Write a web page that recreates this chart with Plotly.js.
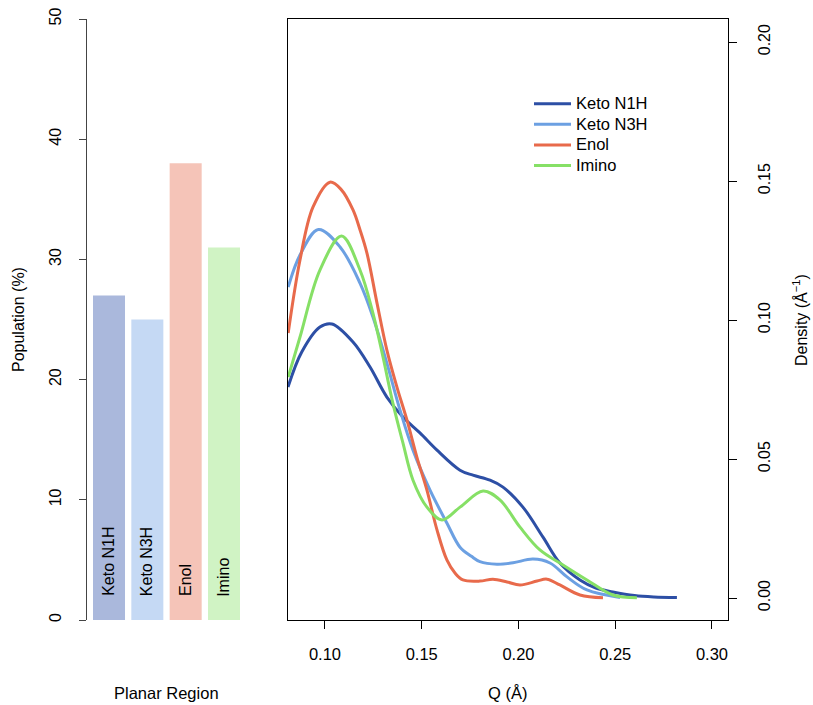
<!DOCTYPE html>
<html>
<head>
<meta charset="utf-8">
<script src="https://cdn.plot.ly/plotly-3.0.1.min.js"></script>
<style>html,body{margin:0;padding:0;background:#fff;}#chart{width:813px;height:705px;}</style>
</head>
<body>
<div id="chart"></div>
<script>
// ---- Data ----
const categories = ["Keto N1H", "Keto N3H", "Enol", "Imino"];
const population = [27, 25, 38, 31];

const ketoN1H_q = [0.0809, 0.0880, 0.0974, 0.1036, 0.1145, 0.1233, 0.1320, 0.1403, 0.1491, 0.1579, 0.1698, 0.1765, 0.1853, 0.1920, 0.2023, 0.2127, 0.2214, 0.2318, 0.2400, 0.2488, 0.2600, 0.2700, 0.2819];
const ketoN1H_d = [0.0759, 0.0885, 0.0975, 0.0986, 0.0921, 0.0831, 0.0723, 0.0651, 0.0594, 0.0532, 0.0460, 0.0442, 0.0424, 0.0399, 0.0327, 0.0219, 0.0126, 0.0065, 0.0036, 0.0022, 0.0009, 0.0004, 0.0002];

const ketoN3H_q = [0.0810, 0.0871, 0.0966, 0.1078, 0.1181, 0.1248, 0.1320, 0.1388, 0.1455, 0.1543, 0.1630, 0.1698, 0.1757, 0.1801, 0.1889, 0.1972, 0.2075, 0.2163, 0.2251, 0.2354, 0.2525];
const ketoN3H_d = [0.1119, 0.1234, 0.1326, 0.1263, 0.1133, 0.1011, 0.0845, 0.0676, 0.0532, 0.0388, 0.0270, 0.0183, 0.0150, 0.0131, 0.0122, 0.0127, 0.0140, 0.0126, 0.0076, 0.0029, 0.0002];

const enol_q = [0.0810, 0.0871, 0.0938, 0.1026, 0.1083, 0.1145, 0.1181, 0.1217, 0.1269, 0.1320, 0.1372, 0.1424, 0.1475, 0.1527, 0.1579, 0.1630, 0.1672, 0.1713, 0.1801, 0.1868, 0.1941, 0.2008, 0.2096, 0.2147, 0.2214, 0.2318, 0.2437];
const enol_d = [0.0953, 0.1216, 0.1406, 0.1496, 0.1470, 0.1396, 0.1325, 0.1241, 0.1061, 0.0892, 0.0759, 0.0640, 0.0507, 0.0388, 0.0245, 0.0137, 0.0090, 0.0065, 0.0061, 0.0068, 0.0058, 0.0047, 0.0061, 0.0068, 0.0047, 0.0011, 0.0001];

const imino_q = [0.0810, 0.0871, 0.0974, 0.1086, 0.1181, 0.1248, 0.1300, 0.1351, 0.1403, 0.1455, 0.1527, 0.1605, 0.1698, 0.1817, 0.1904, 0.2008, 0.2111, 0.2230, 0.2354, 0.2488, 0.2612];
const imino_d = [0.0795, 0.0939, 0.1180, 0.1302, 0.1180, 0.1025, 0.0867, 0.0701, 0.0558, 0.0424, 0.0327, 0.0281, 0.0327, 0.0385, 0.0353, 0.0255, 0.0173, 0.0119, 0.0065, 0.0011, 0.0001];

const lineColors = ["#2d4fa5", "#6ca0e2", "#e86a4b", "#86e066"];
const barColors = ["#aab8dc", "#c5d9f4", "#f5c4b8", "#d0f3c4"];

// ---- Geometry helpers (pixel layout) ----
const W = 813, H = 705;
const FONT = "Liberation Sans, Arial, Helvetica, sans-serif";
const px = v => v / W;
const py = v => 1 - v / H;

const traces = [
  {
    type: "bar", x: [0, 1, 2, 3], y: population,
    marker: { color: barColors, line: { width: 0 } },
    xaxis: "x", yaxis: "y", showlegend: false, hoverinfo: "skip"
  }
];
const series = [
  [ketoN1H_q, ketoN1H_d], [ketoN3H_q, ketoN3H_d], [enol_q, enol_d], [imino_q, imino_d]
];
series.forEach((s, i) => {
  traces.push({
    type: "scatter", mode: "lines", x: s[0], y: s[1],
    name: '<span style="font-size:16.5px">' + categories[i] + '</span>',
    line: { color: lineColors[i], width: 3, shape: "spline", smoothing: 1 },
    xaxis: "x2", yaxis: "y2"
  });
});

const annotations = categories.map((c, i) => ({
  x: i, y: 1.8, xref: "x", yref: "y", text: c, showarrow: false,
  textangle: -90, xanchor: "center", yanchor: "bottom",
  font: { family: FONT, size: 16, color: "#000" }
}));
annotations.push(
  { x: px(166), y: py(693), xref: "paper", yref: "paper", text: "Planar Region", showarrow: false,
    xanchor: "center", yanchor: "middle", font: { family: FONT, size: 16.5, color: "#000" } },
  { x: px(18), y: py(320), xref: "paper", yref: "paper", text: "Population (%)", showarrow: false,
    textangle: -90, xanchor: "center", yanchor: "middle", font: { family: FONT, size: 16, color: "#000" } },
  { x: px(507), y: py(693), xref: "paper", yref: "paper", text: "Q (Å)", showarrow: false,
    xanchor: "center", yanchor: "middle", font: { family: FONT, size: 16.5, color: "#000" } },
  { x: px(800), y: py(320), xref: "paper", yref: "paper", text: "Density (Å<sup>−1</sup>)", showarrow: false,
    textangle: -90, xanchor: "center", yanchor: "middle", font: { family: FONT, size: 16, color: "#000" } }
);

const yDomain = [py(620), py(19)];
const layout = {
  width: W, height: H,
  margin: { l: 0, r: 0, t: 0, b: 0 },
  paper_bgcolor: "#fff", plot_bgcolor: "#fff",
  font: { family: FONT, size: 16, color: "#000" },
  bargap: 0.165,
  xaxis: {
    domain: [px(87), px(245)], range: [-0.574, 3.548],
    visible: false, fixedrange: true
  },
  yaxis: {
    domain: yDomain, range: [0, 50], anchor: "x",
    showline: true, linecolor: "#444", linewidth: 1,
    ticks: "outside", ticklen: 7, tickcolor: "#444", tickwidth: 1,
    tickvals: [0, 10, 20, 30, 40, 50], ticktext: ["0", "10", "20", "30", "40", "50"],
    tickangle: -90, ticklabelstandoff: 12,
    tickfont: { family: FONT, size: 16, color: "#000" },
    showgrid: false, zeroline: false
  },
  xaxis2: {
    domain: [px(288), px(728)], range: [0.0809, 0.3083], anchor: "y2",
    showline: true, mirror: true, linecolor: "#000", linewidth: 1,
    ticks: "outside", ticklen: 8, tickcolor: "#000",
    tickvals: [0.10, 0.15, 0.20, 0.25, 0.30], ticktext: ["0.10", "0.15", "0.20", "0.25", "0.30"],
    ticklabelstandoff: 11,
    tickfont: { family: FONT, size: 16.5, color: "#000" },
    showgrid: false, zeroline: false
  },
  yaxis2: {
    domain: yDomain, range: [-0.0079, 0.2083], anchor: "x2", side: "right",
    showline: true, mirror: true, linecolor: "#000", linewidth: 1,
    ticks: "outside", ticklen: 8, tickcolor: "#000",
    tickvals: [0, 0.05, 0.10, 0.15, 0.20], ticktext: ["0.00", "0.05", "0.10", "0.15", "0.20"],
    tickangle: -90, ticklabelstandoff: 14,
    tickfont: { family: FONT, size: 16, color: "#000" },
    showgrid: false, zeroline: false
  },
  showlegend: true,
  legend: {
    x: px(529), y: py(88.5), xanchor: "left", yanchor: "top",
    bgcolor: "rgba(0,0,0,0)", borderwidth: 0,
    font: { family: FONT, size: 13.5, color: "#000" },
    itemwidth: 37,
    tracegroupgap: 0
  },
  annotations: annotations
};

Plotly.newPlot("chart", traces, layout, { staticPlot: true, displayModeBar: false });
</script>
</body>
</html>
